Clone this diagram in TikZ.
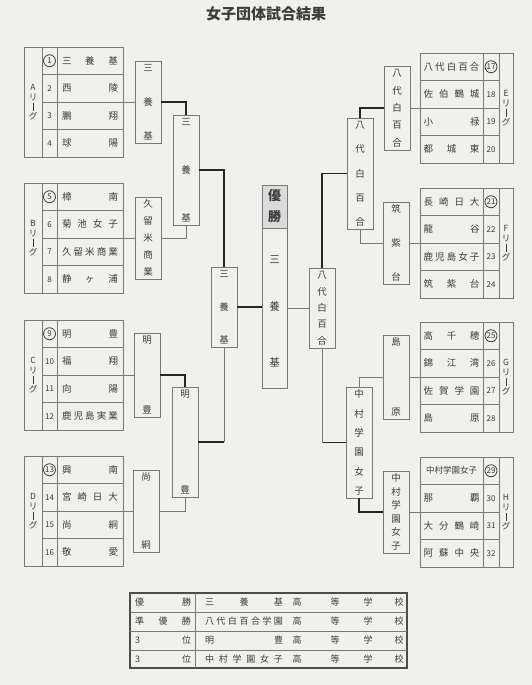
\documentclass[tikz,border=0pt]{standalone}
\usepackage{fontspec}
\usepackage{graphicx}
\setmainfont{Noto Sans CJK JP}
\usetikzlibrary{fit,calc}
\definecolor{paper}{RGB}{240,240,236}
\definecolor{ink}{RGB}{60,60,60}
\definecolor{frame}{RGB}{120,120,120}
\tikzset{
  rbox/.style={draw=frame, line width=0.9pt, inner sep=0pt},
  ch/.style={font=\fontsize{9.5}{9.5}\selectfont, text=ink, inner sep=0pt},
  nm/.style={font=\fontsize{9.5}{9.5}\selectfont, text=ink, inner sep=0pt},
  rnm/.style={font=\fontsize{9}{9}\selectfont, text=ink, inner sep=0pt},
  num/.style={font=\fontsize{8}{8}\selectfont, text=ink, inner sep=0pt},
  lab/.style={font=\fontsize{8.5}{9.5}\selectfont, text=ink, inner sep=0pt, align=center},
  win/.style={draw=black!85, line width=1.6pt},
  lose/.style={draw=frame, line width=0.8pt},
  tline/.style={draw=frame, line width=0.9pt},
  ring/.style={draw=black!75, line width=0.8pt, circle, minimum size=12pt, inner sep=0pt},
}
\newcommand\vbar{\rule[-1pt]{0.7pt}{8pt}}
% round box: name x1 y1 x2 y2 n chars
\newcommand\rbx[7]{%
  \node[rbox, fit={(#2,#3)(#4,#5)}] (#1) {};
  \foreach \c [count=\i] in {#7} {
    \pgfmathsetmacro\yy{#3+7+(\i-1)*(#5-#3-14)/(#6-1)}
    \node[ch] (#1c\i) at ({(#2+#4)/2},\yy) {\c};
  }
}
% left league table: name ytop letter firstnum names
\newcommand\lefttable[5]{%
  \node[rbox, fit={(24,#2)(123,#2+110)}] (#1) {};
  \draw[tline] (42,#2) -- (42,#2+110) (57,#2) -- (57,#2+110);
  \foreach \k in {1,2,3} \draw[tline] (42,#2+27.5*\k) -- (123,#2+27.5*\k);
  \node[lab] (#1lab) at (33,#2+55) {#3\\リ\\\vbar\\グ};
  \foreach \nmx [count=\i] in {#5} {
    \pgfmathtruncatemacro\numx{#4+\i-1}
    \node[num] (#1n\i) at (49.5,#2+27.5*\i-13.75) {\numx};
    \node[nm] (#1t\i) at (90,#2+27.5*\i-13.75) {\makebox[56pt]{\nmx}};
  }
  \node[ring] (#1r) at (49.5,#2+13.75) {};
}
% right league table
\newcommand\righttable[5]{%
  \node[rbox, fit={(420,#2)(513,#2+110)}] (#1) {};
  \draw[tline] (483,#2) -- (483,#2+110) (499,#2) -- (499,#2+110);
  \foreach \k in {1,2,3} \draw[tline] (420,#2+27.5*\k) -- (499,#2+27.5*\k);
  \node[lab] (#1lab) at (506,#2+55) {#3\\リ\\\vbar\\グ};
  \foreach \nmx [count=\i] in {#5} {
    \pgfmathtruncatemacro\numx{#4+\i-1}
    \node[num] (#1n\i) at (491,#2+27.5*\i-13.75) {\numx};
    \node[nm] (#1t\i) at (451.5,#2+27.5*\i-13.75) {\makebox[56pt]{\nmx}};
  }
  \node[ring] (#1r) at (491,#2+13.75) {};
}
\begin{document}
\begin{tikzpicture}[x=1pt,y=-1pt]
\fill[paper] (0,0) rectangle (532,685);
\useasboundingbox (0,0) rectangle (532,685);

\node[font=\fontsize{15}{15}\selectfont\bfseries, text=ink] (title) at (266,14) {女子団体試合結果};

% league tables
\lefttable{tA}{47}{A}{1}{三\hfill 養\hfill 基, 西\hfill 陵, 鵬\hfill 翔, 球\hfill 陽}
\lefttable{tB}{183}{B}{5}{樟\hfill 南, 菊\hfill 池\hfill 女\hfill 子, 久\hfill 留\hfill 米\hfill 商\hfill 業, 静\hfill ヶ\hfill 浦}
\lefttable{tC}{320}{C}{9}{明\hfill 豊, 福\hfill 翔, 向\hfill 陽, 鹿\hfill 児\hfill 島\hfill 実\hfill 業}
\lefttable{tD}{456}{D}{13}{興\hfill 南, 宮\hfill 崎\hfill 日\hfill 大, 尚\hfill 絅, 敬\hfill 愛}
\righttable{tE}{53}{E}{17}{八\hfill 代\hfill 白\hfill 百\hfill 合, 佐\hfill 伯\hfill 鶴\hfill 城, 小\hfill 禄, 都\hfill 城\hfill 東}
\righttable{tF}{188}{F}{21}{長\hfill 崎\hfill 日\hfill 大, 龍\hfill 谷, 鹿\hfill 児\hfill 島\hfill 女\hfill 子, 筑\hfill 紫\hfill 台}
\righttable{tG}{322}{G}{25}{高\hfill 千\hfill 穂, 錦\hfill 江\hfill 湾, 佐\hfill 賀\hfill 学\hfill 園, 島\hfill 原}
\righttable{tH}{457}{H}{29}{{\fontsize{8.5}{8.5}\selectfont 中村学園女子}, 那\hfill 覇, 大\hfill 分\hfill 鶴\hfill 崎, 阿\hfill 蘇\hfill 中\hfill 央}

% round 1
\rbx{a1}{135}{61}{161}{143}{3}{三,養,基}
\rbx{b1}{135}{197}{161}{279}{5}{久,留,米,商,業}
\rbx{c1}{134}{333}{160}{417}{2}{明,豊}
\rbx{d1}{133}{470}{159}{552}{2}{尚,絅}
\rbx{e1}{384}{66}{410}{150}{5}{八,代,白,百,合}
\rbx{f1}{383}{202}{409}{284}{3}{筑,紫,台}
\rbx{g1}{383}{335}{409}{419}{2}{島,原}
\rbx{h1}{383}{471}{409}{553}{6}{中,村,学,園,女,子}
% round 2
\rbx{ab}{173}{115}{199}{225}{3}{三,養,基}
\rbx{cd}{172}{387}{198}{497}{2}{明,豊}
\rbx{ef}{347}{118}{373}{229}{5}{八,代,白,百,合}
\rbx{gh}{346}{387}{372}{498}{6}{中,村,学,園,女,子}
% semifinals
\rbx{sL}{211}{267}{237}{347}{3}{三,養,基}
\rbx{sR}{309}{268}{335}{348}{5}{八,代,白,百,合}
% champion
\node[rbox, fill=gray!28, fit={(262,185)(287,228)}] (champ) {};
\node[font=\fontsize{13}{13}\selectfont\bfseries, text=ink, inner sep=0pt] (champ1) at (274.5,196) {優};
\node[font=\fontsize{13}{13}\selectfont\bfseries, text=ink, inner sep=0pt] (champ2) at (274.5,217) {勝};
\node[rbox, fit={(262,228)(287,388)}] (cw) {};
\node[ch, font=\fontsize{10.5}{10.5}\selectfont] (cw1) at (274.5,260) {三};
\node[ch, font=\fontsize{10.5}{10.5}\selectfont] (cw2) at (274.5,307) {養};
\node[ch, font=\fontsize{10.5}{10.5}\selectfont] (cw3) at (274.5,362) {基};

% connectors left
\draw[lose] (tA.east) -- (a1.west);
\draw[win] (a1.east) -| (ab.north);
\draw[lose] (tB.east) -- (b1.west);
\draw[lose] (b1.east) -| (ab.south);
\draw[win] (ab.east) -| (sL.north);
\draw[lose] (tC.east) -- (c1.west);
\draw[win] (c1.east) -| (cd.north);
\draw[lose] (tD.east) -- (d1.west);
\draw[lose] (d1.east) -| (cd.south);
\draw[win] (cd.east) -- (cd.east -| sL.south);
\draw[lose] (cd.east -| sL.south) -- (sL.south);
\draw[win] (sL.east) -- (sL.east -| cw.west);
% connectors right
\draw[lose] (tE.west) -- (e1.east);
\draw[win] (e1.west) -| (ef.north);
\draw[lose] (tF.west) -- (f1.east);
\draw[lose] (f1.west) -| (ef.south);
\draw[win] (ef.west) -| (sR.north);
\draw[lose] (tG.west) -- (g1.east);
\draw[lose] (g1.west) -| (gh.north);
\draw[lose] (tH.west) -- (h1.east);
\draw[win] (h1.west) -| (gh.south);
\draw[win] (gh.west) -- (gh.west -| sR.south);
\draw[lose] (gh.west -| sR.south) -- (sR.south);
\draw[lose] (cw.east) -- (cw.east -| sR.west);

% results table
\node[rbox, line width=1.5pt, draw=black!70, fit={(130,593)(407,668)}] (res) {};
\draw[tline] (130,612) -- (407,612) (130,631) -- (407,631) (130,650) -- (407,650) (195,593) -- (195,668);
\foreach \rk/\nmx [count=\i] in {優\hfill 勝/三\hfill 養\hfill 基, 準\hfill 優\hfill 勝/八\hfill 代\hfill 白\hfill 百\hfill 合\hfill 学\hfill 園, 3\hfill 位/明\hfill 豊, 3\hfill 位/中\hfill 村\hfill 学\hfill 園\hfill 女\hfill 子} {
  \pgfmathsetmacro\yy{593+18.75*\i-9.4}
  \node[rnm] (rk\i) at (163,\yy) {\makebox[56pt]{\rk}};
  \node[rnm] (rn\i) at (244,\yy) {\makebox[78pt]{\nmx}};
  \node[rnm] (rq\i) at (297,\yy) {高};
  \node[rnm] (rr\i) at (335,\yy) {等};
  \node[rnm] (rs\i) at (368,\yy) {学};
  \node[rnm] (rt\i) at (399,\yy) {校};
}
\end{tikzpicture}
\end{document}
